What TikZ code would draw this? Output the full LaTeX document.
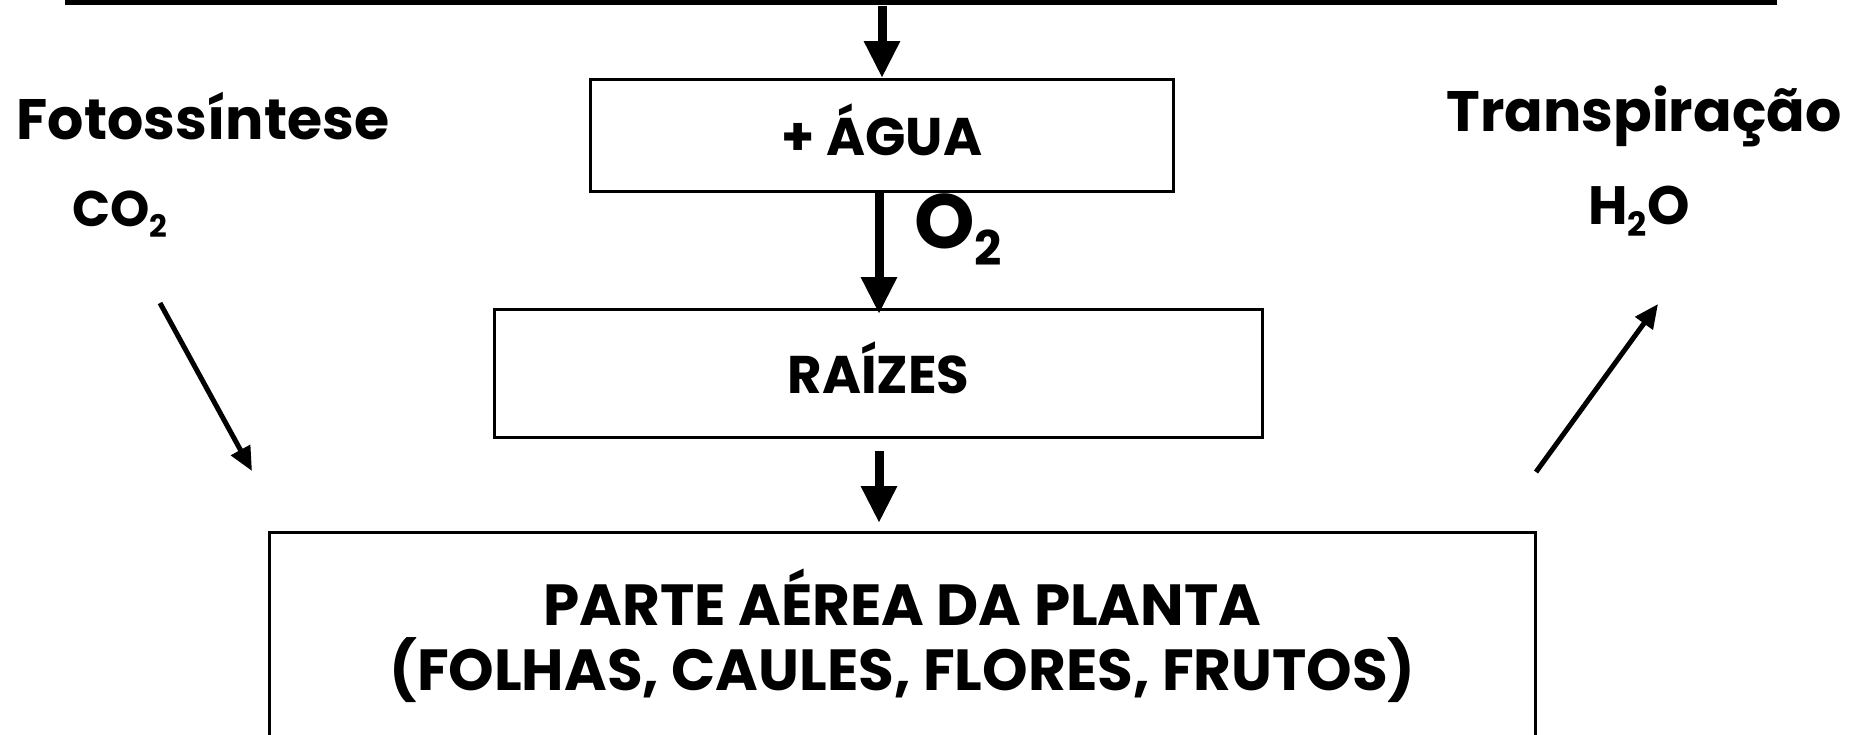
\documentclass[tikz,border=0pt]{standalone}
\usepackage{fontspec}
\setmainfont{Poppins}
\usetikzlibrary{arrows.meta,calc}
\newcommand{\fsz}[2]{\fontsize{#1pt}{#2pt}\selectfont\bfseries}
\newcommand{\subtwo}{\raisebox{-0.22em}{\scalebox{0.62}{2}}}
\begin{document}
\begin{tikzpicture}[x=1pt,y=-1pt,
  boxstyle/.style={draw,line width=3pt,inner sep=0pt,anchor=north west},
  thickarrow/.style={line width=9pt,-{Triangle[width=34pt,length=37pt]}},
  thinarrow/.style={line width=5pt,-{Triangle[width=21pt,length=24pt]}},
  lbl/.style={inner sep=0pt,align=center}]
\useasboundingbox (0,0) rectangle (1857,734);
% top line
\coordinate (tl) at (65,2);
\coordinate (tr) at (1777,2);
\draw[line width=5pt] (tl) -- (tr);
% boxes
\node[boxstyle,minimum width=583pt,minimum height=112pt] (water) at (589,78) {};
\node[lbl,font=\fsz{53}{60}] (wt) at ($(water.center)+(0,-6)$) {+ ÁGUA};
\node[boxstyle,minimum width=768pt,minimum height=128pt] (raiz) at (493,308) {};
\node[lbl,font=\fsz{53}{60}] (rt) at ($(raiz.center)+(0,-6)$) {RAÍZES};
\node[boxstyle,minimum width=1266pt,minimum height=210pt] (parte) at (268,531) {};
\node[lbl,font=\fsz{58}{65}] (pt) at ($(parte.center)+(0,-2)$) {PARTE AÉREA DA PLANTA\\(FOLHAS, CAULES, FLORES, FRUTOS)};
% central arrows
\coordinate (ta) at (882,6);
\draw[thickarrow] (ta) -- (ta |- water.north);
\coordinate (ax) at (879,0);
\draw[thickarrow] (ax |- water.south) -- ($(ax |- raiz.north)+(0,6)$);
\draw[thickarrow] ($(ax |- raiz.south)+(0,12)$) -- ($(ax |- parte.north)+(0,-8)$);
\node[lbl,anchor=west,font=\fsz{77}{80}] (o2) at (914,230) {O\subtwo};
% side labels
\node[lbl,font=\fsz{57}{65}] (foto) at (203,116) {Fotossíntese};
\node[lbl,font=\fsz{50}{55}] (co2) at (120,214) {CO\subtwo};
\node[lbl,font=\fsz{57}{65}] (transp) at (1644,116) {Transpiração};
\node[lbl,font=\fsz{54}{58}] (h2o) at (1639,211) {H\subtwo O};
\coordinate (fs) at (160,303);
\coordinate (fe) at (252,471);
\draw[thinarrow] (fs) -- (fe);
\coordinate (ts) at (1536,472);
\coordinate (te) at (1658,304);
\draw[thinarrow] (ts) -- (te);
\end{tikzpicture}
\end{document}
